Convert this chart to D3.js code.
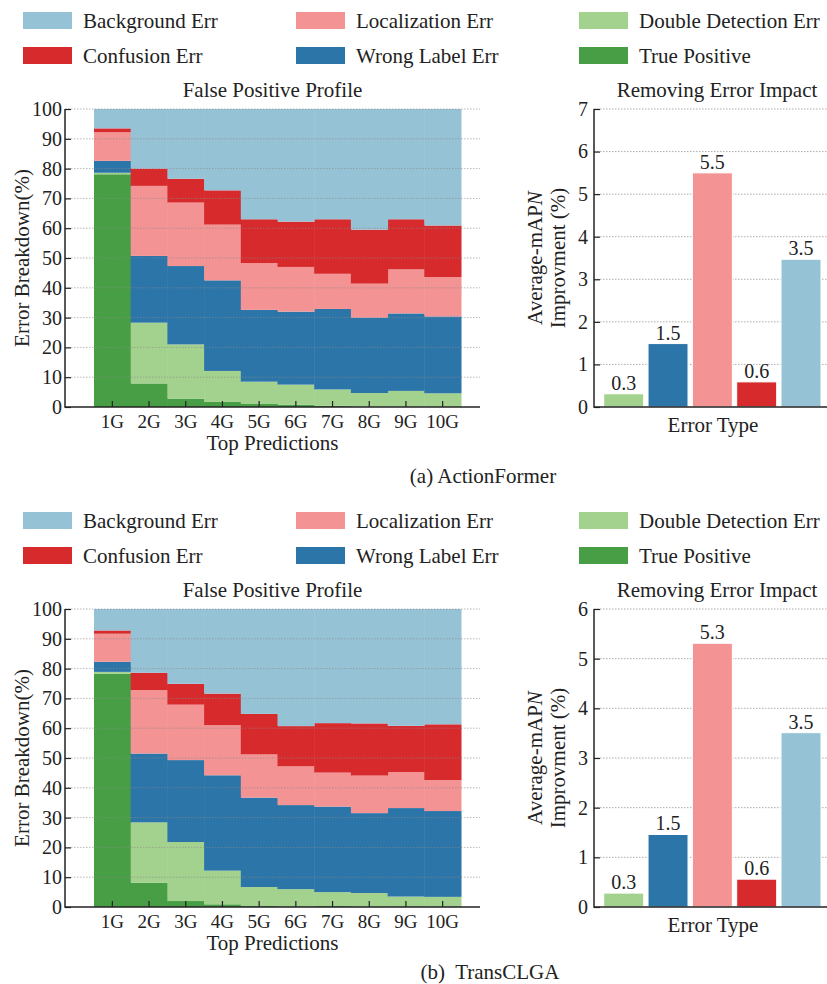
<!DOCTYPE html>
<html>
<head>
<meta charset="utf-8">
<script src="https://cdn.jsdelivr.net/npm/d3@7"></script>
<style>
  body { margin: 0; background: #fff; }
  svg text { font-family: "Liberation Serif", "Times New Roman", serif; fill: #222; }
</style>
</head>
<body>
<div id="chart"></div>
<script>
// categories / series
const CATEGORIES = ["1G", "2G", "3G", "4G", "5G", "6G", "7G", "8G", "9G", "10G"];
const SERIES = ["True Positive", "Double Detection Err", "Wrong Label Err",
                "Localization Err", "Confusion Err", "Background Err"];
const LEGEND_ORDER = ["Background Err", "Localization Err", "Double Detection Err",
                      "Confusion Err", "Wrong Label Err", "True Positive"];
const ERROR_TYPES = ["Double Detection Err", "Wrong Label Err", "Localization Err",
                     "Confusion Err", "Background Err"];

// (a) ActionFormer, share of each class per top-k (%)
const AF_TP   = [78.1, 7.9, 2.8, 1.7, 1.0, 0.8, 0.4, 0.1, 0.1, 0.1];
const AF_DD   = [0.5, 20.4, 18.2, 10.4, 7.5, 6.7, 5.5, 4.6, 5.3, 4.5];
const AF_WL   = [4.0, 22.4, 26.3, 30.4, 24.1, 24.5, 27.0, 25.3, 26.0, 25.8];
const AF_LOC  = [9.6, 23.5, 21.3, 18.7, 15.7, 15.0, 11.8, 11.4, 14.8, 13.2];
const AF_CONF = [1.3, 5.8, 8.0, 11.5, 14.7, 15.2, 18.3, 18.1, 16.8, 17.3];
const AF_BG   = [6.5, 20.0, 23.4, 27.3, 37.0, 37.8, 37.0, 40.5, 37.0, 39.1];
const AF_IMPACT = [0.31, 1.49, 5.5, 0.59, 3.47];

// (b) TransCLGA
const TC_TP   = [78.3, 8.1, 2.0, 0.9, 0.3, 0.2, 0.3, 0.1, 0.2, 0.1];
const TC_DD   = [0.6, 20.3, 19.8, 11.3, 6.4, 5.8, 4.7, 4.6, 3.3, 3.3];
const TC_WL   = [3.4, 23.1, 27.5, 32.0, 30.0, 28.2, 28.7, 26.8, 29.7, 28.8];
const TC_LOC  = [9.4, 21.3, 18.6, 16.8, 14.5, 13.0, 11.4, 12.6, 12.1, 10.4];
const TC_CONF = [1.1, 5.8, 7.0, 10.6, 13.6, 13.5, 16.6, 17.5, 15.5, 18.7];
const TC_BG   = [7.2, 21.4, 25.1, 28.4, 35.2, 39.3, 38.3, 38.4, 39.2, 38.7];
const TC_IMPACT = [0.28, 1.46, 5.31, 0.56, 3.51];

// tick labels
const PROFILE_TICKS = [0, 10, 20, 30, 40, 50, 60, 70, 80, 90, 100];
const AF_IMPACT_TICKS = [0, 1, 2, 3, 4, 5, 6, 7];
const TC_IMPACT_TICKS = [0, 1, 2, 3, 4, 5, 6];

const COLORS = {
  "Background Err": "#96c2d6",
  "Localization Err": "#f49394",
  "Double Detection Err": "#a3d28e",
  "Confusion Err": "#d62a2d",
  "Wrong Label Err": "#2c75a8",
  "True Positive": "#479e45"
};

const WIDTH = 827, HEIGHT = 984;
const LEFT = {x0: 65, x1: 480, bar0: 94, bar1: 461, top: 109, bottom: 407};
const RIGHT = {x0: 594, x1: 840, bar0: 603.7, bar1: 821};

const svg = d3.select("#chart").append("svg")
  .attr("width", WIDTH).attr("height", HEIGHT);

function buildTable(tp, dd, wl, loc, conf, bg) {
  return CATEGORIES.map((c, i) => ({
    cat: c,
    "True Positive": tp[i], "Double Detection Err": dd[i], "Wrong Label Err": wl[i],
    "Localization Err": loc[i], "Confusion Err": conf[i], "Background Err": bg[i]
  }));
}

function drawLegend(g) {
  const xs = [23, 296, 579];
  const ys = [12, 47];
  LEGEND_ORDER.forEach((name, i) => {
    const x = xs[i % 3], y = ys[Math.floor(i / 3)];
    g.append("rect").attr("x", x).attr("y", y).attr("width", 49).attr("height", 17)
      .attr("fill", COLORS[name]);
    g.append("text").attr("x", x + 60).attr("y", y + 16)
      .attr("font-size", "21px").text(name);
  });
}

function styleAxis(ax, size) {
  ax.selectAll(".domain").remove();
  ax.selectAll(".tick line").attr("stroke", "#222").attr("stroke-width", 1.2);
  ax.selectAll(".tick text").attr("font-size", size).attr("fill", "#222")
    .attr("font-family", "Liberation Serif, serif");
}

function drawProfile(g, table) {
  const x = d3.scaleBand().domain(CATEGORIES).range([LEFT.bar0, LEFT.bar1]).padding(0);
  const y = d3.scaleLinear().domain([0, 100]).range([LEFT.bottom, LEFT.top]);
  const stacked = d3.stack().keys(SERIES)(table);

  g.selectAll("g.layer")
    .data(stacked)
    .enter()
    .append("g")
      .attr("class", "layer")
      .attr("fill", (d) => COLORS[d.key])
    .selectAll("rect")
    .data((d) => d)
    .enter()
    .append("rect")
      .attr("x", (d) => x(d.data.cat))
      .attr("y", (d) => y(d[1]))
      .attr("width", x.bandwidth() + 0.5)
      .attr("height", (d) => y(d[0]) - y(d[1]));

  // dotted grid drawn over the stack
  g.selectAll("line.grid")
    .data(PROFILE_TICKS.slice(1))
    .enter()
    .append("line")
      .attr("x1", LEFT.x0).attr("x2", LEFT.x1)
      .attr("y1", (d) => y(d)).attr("y2", (d) => y(d))
      .attr("stroke", "#8a8a8a").attr("stroke-opacity", 0.6)
      .attr("stroke-width", 1).attr("stroke-dasharray", "1.5,1.5");

  const ay = g.append("g").attr("transform", "translate(" + LEFT.x0 + ",0)")
    .call(d3.axisLeft(y).tickValues(PROFILE_TICKS).tickSize(-6).tickPadding(3));
  styleAxis(ay, "20px");
  const ax = g.append("g").attr("transform", "translate(0," + LEFT.bottom + ")")
    .call(d3.axisBottom(x).tickSize(-6).tickPadding(8));
  styleAxis(ax, "19px");

  // spines
  g.append("line").attr("x1", LEFT.x0).attr("x2", LEFT.x0)
    .attr("y1", LEFT.top).attr("y2", LEFT.bottom + 0.75)
    .attr("stroke", "#222").attr("stroke-width", 1.5);
  g.append("line").attr("x1", LEFT.x0).attr("x2", LEFT.x1)
    .attr("y1", LEFT.bottom).attr("y2", LEFT.bottom)
    .attr("stroke", "#222").attr("stroke-width", 1.5);

  g.append("text").attr("x", (LEFT.x0 + LEFT.x1) / 2).attr("y", 97)
    .attr("text-anchor", "middle").attr("font-size", "21px").text("False Positive Profile");
  g.append("text").attr("x", (LEFT.x0 + LEFT.x1) / 2).attr("y", 450)
    .attr("text-anchor", "middle").attr("font-size", "21px").text("Top Predictions");
  g.append("text")
    .attr("transform", "translate(29," + (LEFT.top + LEFT.bottom) / 2 + ") rotate(-90)")
    .attr("text-anchor", "middle").attr("font-size", "21px").text("Error Breakdown(%)");
}

function drawImpact(g, values, ticks) {
  const x = d3.scaleBand().domain(ERROR_TYPES).range([RIGHT.bar0, RIGHT.bar1])
    .paddingInner(0.098).paddingOuter(0);
  const y = d3.scaleLinear().domain([0, d3.max(ticks)]).range([LEFT.bottom, LEFT.top]);

  g.selectAll("line.grid")
    .data(ticks.slice(1))
    .enter()
    .append("line")
      .attr("x1", RIGHT.x0).attr("x2", RIGHT.x1)
      .attr("y1", (d) => y(d)).attr("y2", (d) => y(d))
      .attr("stroke", "#8a8a8a").attr("stroke-opacity", 0.7)
      .attr("stroke-width", 1).attr("stroke-dasharray", "1.5,1.5");

  g.selectAll("rect.bar")
    .data(values)
    .enter()
    .append("rect")
      .attr("x", (d, i) => x(ERROR_TYPES[i]))
      .attr("y", (d) => y(d))
      .attr("width", x.bandwidth())
      .attr("height", (d) => y(0) - y(d))
      .attr("fill", (d, i) => COLORS[ERROR_TYPES[i]])
      .attr("stroke", "#fff").attr("stroke-width", 1);

  g.selectAll("text.val")
    .data(values)
    .enter()
    .append("text")
      .attr("x", (d, i) => x(ERROR_TYPES[i]) + x.bandwidth() / 2)
      .attr("y", (d) => y(d) - 4)
      .attr("text-anchor", "middle").attr("font-size", "20px")
      .text((d) => d3.format(".1f")(d));

  const ay = g.append("g").attr("transform", "translate(" + RIGHT.x0 + ",0)")
    .call(d3.axisLeft(y).tickValues(ticks).tickFormat(d3.format("d")).tickSize(-6).tickPadding(6));
  styleAxis(ay, "20px");

  g.append("line").attr("x1", RIGHT.x0).attr("x2", RIGHT.x0)
    .attr("y1", LEFT.top).attr("y2", LEFT.bottom + 0.75)
    .attr("stroke", "#222").attr("stroke-width", 1.5);
  g.append("line").attr("x1", RIGHT.x0).attr("x2", RIGHT.x1)
    .attr("y1", LEFT.bottom).attr("y2", LEFT.bottom)
    .attr("stroke", "#222").attr("stroke-width", 1.5);

  g.append("text").attr("x", 717).attr("y", 97)
    .attr("text-anchor", "middle").attr("font-size", "21px").text("Removing Error Impact");
  g.append("text").attr("x", 713).attr("y", 432)
    .attr("text-anchor", "middle").attr("font-size", "21px").text("Error Type");

  const lab = g.append("text")
    .attr("transform", "translate(542," + (LEFT.top + LEFT.bottom) / 2 + ") rotate(-90)")
    .attr("text-anchor", "middle").attr("font-size", "21px");
  lab.append("tspan").text("Average-mAP");
  lab.append("tspan").attr("font-style", "italic").text("N");
  g.append("text")
    .attr("transform", "translate(565," + (LEFT.top + LEFT.bottom) / 2 + ") rotate(-90)")
    .attr("text-anchor", "middle").attr("font-size", "21px").text("Improvment (%)");
}

function drawFigure(offsetY, table, impact, impactTicks, caption, captionX, captionY) {
  const g = svg.append("g").attr("transform", "translate(0," + offsetY + ")");
  drawLegend(g);
  drawProfile(g, table);
  drawImpact(g, impact, impactTicks);
  svg.append("text").attr("x", captionX).attr("y", captionY)
    .attr("text-anchor", "middle").attr("font-size", "21px")
    .style("white-space", "pre").text(caption);
}

drawFigure(0, buildTable(AF_TP, AF_DD, AF_WL, AF_LOC, AF_CONF, AF_BG),
           AF_IMPACT, AF_IMPACT_TICKS, "(a) ActionFormer", 483, 483);
drawFigure(500, buildTable(TC_TP, TC_DD, TC_WL, TC_LOC, TC_CONF, TC_BG),
           TC_IMPACT, TC_IMPACT_TICKS, "(b)  TransCLGA", 490, 979);
</script>
</body>
</html>
